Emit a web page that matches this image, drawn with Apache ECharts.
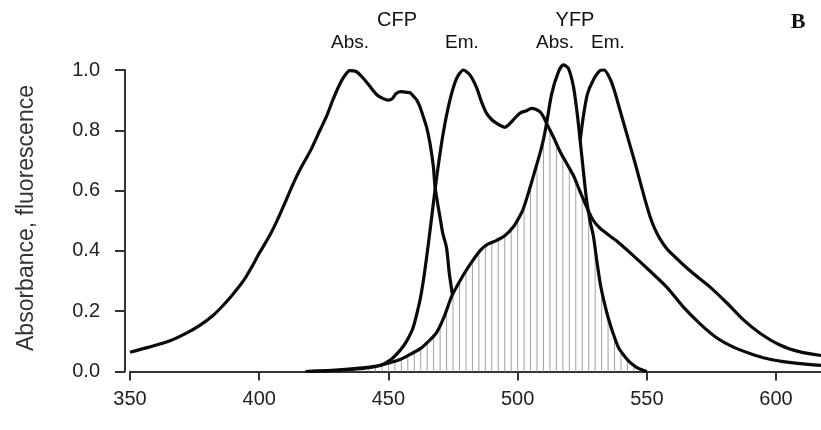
<!DOCTYPE html>
<html>
<head>
<meta charset="utf-8">
<script src="https://cdn.jsdelivr.net/npm/echarts@6/dist/echarts.min.js"></script>
<style>html,body{margin:0;padding:0;background:#fff}#c{width:821px;height:430px}</style>
</head>
<body>
<div id="c"></div>
<script>
// ---- data (wavelength nm, normalized value) ----
const cfpAbsNm  = [350,357,365,372,377,382,386,390,394,397,400,404,407,410,413,416,420,423.5,426,428.7,431.3,433,435,437.5,440,442.9,445.5,448,450,451.5,453,455,457,458.5,460,461,462.2,463.5,464.8,466.1,467.4,468,469,470,471,472.5,473.5,474.7];
const cfpAbsVal = [0.064,0.08,0.10,0.128,0.153,0.185,0.219,0.258,0.302,0.345,0.392,0.45,0.502,0.56,0.62,0.673,0.735,0.80,0.845,0.905,0.955,0.98,0.998,0.995,0.975,0.945,0.918,0.905,0.9,0.905,0.922,0.928,0.926,0.924,0.91,0.9,0.878,0.845,0.81,0.756,0.679,0.615,0.56,0.51,0.46,0.41,0.33,0.258];

const cfpEmNm  = [418,425,432,440,446.7,451,454.5,457,459.6,462.2,463.5,464.8,466,467,468.7,471.2,473.8,476.4,479,481.6,484.2,486,488,490,491.9,493.5,495.1,496.5,498.3,500,501.5,503.5,505.4,507,508.7,510,511.2,514,516.4,519,521.6,524,526.7,529,531.9,538,544,551,557.7,564,570.6,577,583.5,589.9,596.4,602.8,609.3,617.4];
const cfpEmVal = [0,0.002,0.005,0.01,0.02,0.04,0.07,0.1,0.147,0.236,0.3,0.38,0.46,0.53,0.646,0.79,0.9,0.972,1.0,0.983,0.94,0.895,0.856,0.835,0.823,0.815,0.81,0.818,0.834,0.85,0.86,0.865,0.873,0.87,0.861,0.845,0.823,0.775,0.73,0.69,0.65,0.6,0.546,0.505,0.475,0.435,0.39,0.335,0.28,0.215,0.158,0.112,0.081,0.06,0.043,0.033,0.026,0.02];

const yfpAbsNm  = [418,425,432,440,446.7,450,454.5,458,462.2,465.5,468.7,471.5,474.5,477,479,482,485.4,488,491.9,495,498.3,500.5,502.2,504.8,506.5,508.7,510,511.2,513.2,515.8,517.7,519.6,521.6,523,524.2,525.5,526.7,528,529.3,530.6,532,533.5,535,537,539,541,543.5,546,548,550];
const yfpAbsVal = [0,0.002,0.006,0.012,0.02,0.028,0.04,0.055,0.075,0.1,0.13,0.18,0.25,0.29,0.32,0.36,0.4,0.42,0.435,0.45,0.479,0.51,0.54,0.61,0.66,0.725,0.77,0.823,0.922,0.994,1.017,1.006,0.945,0.86,0.767,0.66,0.568,0.5,0.45,0.37,0.29,0.23,0.18,0.125,0.08,0.055,0.03,0.014,0.006,0];

const yfpEmNm  = [524.2,525.5,527,529.3,531.9,533.5,535.8,537.5,539.6,541.5,543.5,545.5,547.4,549.3,551.2,553,555.1,557.5,560.3,564,568,574.5,580.9,587.3,593.8,601.5,609.3,617.4];
const yfpEmVal = [0.767,0.85,0.92,0.967,0.998,1.0,0.97,0.93,0.867,0.81,0.75,0.69,0.63,0.57,0.515,0.475,0.44,0.41,0.385,0.355,0.325,0.28,0.228,0.172,0.127,0.088,0.065,0.053];

const xTicks = [350,400,450,500,550,600];
const yTicks = [0,0.2,0.4,0.6,0.8,1.0];
const yTitle = 'Absorbance, fluorescence';
const topLabels = ['CFP','Abs.','Em.','YFP','Abs.','Em.'];
const panelLetter = 'B';
const hatchStart = 420, hatchEnd = 550, hatchStep = 2.5;

// ---- helpers ----
function zip(a, b) { return a.map((x, i) => [x, b[i]]); }
function interp(xs, ys, x) {
  if (x < xs[0] || x > xs[xs.length - 1]) return 0;
  for (let i = 1; i < xs.length; i++) {
    if (x <= xs[i]) {
      const t = (x - xs[i - 1]) / (xs[i] - xs[i - 1]);
      return ys[i - 1] + t * (ys[i] - ys[i - 1]);
    }
  }
  return ys[ys.length - 1];
}
const hatch = [];
for (let x = hatchStart; x <= hatchEnd; x += hatchStep) {
  hatch.push([x, Math.min(interp(cfpEmNm, cfpEmVal, x), interp(yfpAbsNm, yfpAbsVal, x))]);
}

const chart = echarts.init(document.getElementById('c'));
const lineStyle = { color: '#0a0a0a', width: 3.2 };
const mkLine = (name, data) => ({
  name, type: 'line', data, showSymbol: false, symbol: 'none', smooth: 0.25,
  clip: false, lineStyle, z: 5, silent: true
});
const font = 'Liberation Sans, Arial, sans-serif';

chart.setOption({
  animation: false,
  grid: { left: 130, right: 0, top: 70, bottom: 58.5 },
  xAxis: {
    type: 'value', min: 350, max: 617.4, interval: 50, offset: 3.5,
    axisLine: { show: true, lineStyle: { color: '#333', width: 2 } },
    axisTick: { show: true, length: 9, lineStyle: { color: '#333', width: 2 }, customValues: xTicks },
    axisLabel: { customValues: xTicks, color: '#222', fontSize: 20, fontFamily: font, margin: 14 },
    splitLine: { show: false }
  },
  yAxis: {
    type: 'value', min: 0, max: 1, interval: 0.2, offset: 5,
    axisLine: { show: true, lineStyle: { color: '#333', width: 2 } },
    axisTick: { show: true, length: 10, lineStyle: { color: '#333', width: 2 }, customValues: yTicks },
    axisLabel: { customValues: yTicks, color: '#222', fontSize: 20, fontFamily: font, margin: 25,
      formatter: v => v.toFixed(1) },
    splitLine: { show: false }
  },
  series: [
    { name: 'overlap', type: 'bar', data: hatch, barWidth: 1, itemStyle: { color: '#a0a0a0' }, z: 2, silent: true },
    mkLine('CFP Abs.', zip(cfpAbsNm, cfpAbsVal)),
    mkLine('CFP Em.', zip(cfpEmNm, cfpEmVal)),
    mkLine('YFP Abs.', zip(yfpAbsNm, yfpAbsVal)),
    mkLine('YFP Em.', zip(yfpEmNm, yfpEmVal))
  ],
  graphic: [
    { type: 'text', x: 27, y: 218, rotation: Math.PI / 2,
      style: { text: yTitle, fill: '#333', font: '23px ' + font, align: 'center', verticalAlign: 'middle' } },
    { type: 'text', x: 397, y: 20, style: { text: topLabels[0], fill: '#111', font: '20px ' + font, align: 'center', verticalAlign: 'middle' } },
    { type: 'text', x: 350, y: 43, style: { text: topLabels[1], fill: '#111', font: '19px ' + font, align: 'center', verticalAlign: 'middle' } },
    { type: 'text', x: 462, y: 43, style: { text: topLabels[2], fill: '#111', font: '19px ' + font, align: 'center', verticalAlign: 'middle' } },
    { type: 'text', x: 575, y: 20, style: { text: topLabels[3], fill: '#111', font: '20px ' + font, align: 'center', verticalAlign: 'middle' } },
    { type: 'text', x: 555, y: 43, style: { text: topLabels[4], fill: '#111', font: '19px ' + font, align: 'center', verticalAlign: 'middle' } },
    { type: 'text', x: 608, y: 43, style: { text: topLabels[5], fill: '#111', font: '19px ' + font, align: 'center', verticalAlign: 'middle' } },
    { type: 'text', x: 798, y: 22, style: { text: panelLetter, fill: '#111', font: 'bold 22px Liberation Serif, Times New Roman, serif', align: 'center', verticalAlign: 'middle' } }
  ]
});
</script>
</body>
</html>
